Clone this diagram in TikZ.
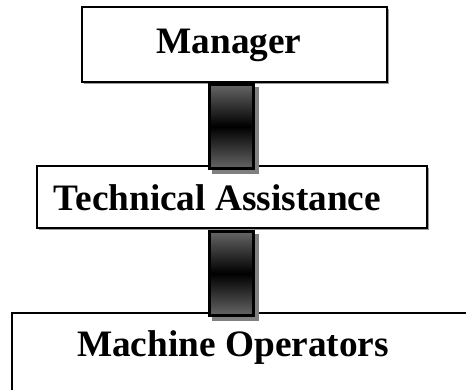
\documentclass[tikz,border=0pt]{standalone}
\usepackage{fontspec}
\setmainfont{Liberation Serif}
\definecolor{barend}{HTML}{666666}
\definecolor{barshadow}{HTML}{808080}
\definecolor{boxshadow}{HTML}{9A9A9A}
\begin{document}
\begin{tikzpicture}[x=1pt,y=-1pt,
  orgbox/.style={draw=black,line width=1.4pt,fill=white,rectangle,inner sep=0pt},
  orgshadow/.style={fill=boxshadow,rectangle,inner sep=0pt},
  orglabel/.style={anchor=base,inner sep=0pt,font=\fontsize{37.3}{41}\selectfont\bfseries},
  linkbar/.style={draw=black,line width=2.6pt,rectangle,inner sep=0pt,
    top color=barend,bottom color=barend,middle color=black,
    minimum width=44.5pt,minimum height=84.5pt},
  linkshadow/.style={fill=barshadow,rectangle,inner sep=0pt,
    minimum width=47pt,minimum height=87pt}
]
\useasboundingbox (0,0) rectangle (466,389);
\clip (0,0) rectangle (466,389);

% framed boxes with a faint drop shadow
\node[orgshadow,minimum width=305pt,minimum height=75pt] (mgrsh) at (236,46) {};
\node[orgbox,minimum width=305pt,minimum height=75pt] (mgr) at (234.5,44.5) {};
\node[orgshadow,minimum width=390pt,minimum height=62pt] (techsh) at (233.5,198.5) {};
\node[orgbox,minimum width=390pt,minimum height=62pt] (tech) at (232,197) {};
\node[orgbox,minimum width=500pt,minimum height=120pt] (ops) at (262,373) {};

% labels
\node[orglabel] (mgrtext) at (229,53) {Manager};
\node[orglabel] (techtext) at (217.5,210) {Technical Assistance};
\node[orglabel] (opstext) at (233,356) {Machine Operators};

% shaded bars linking the levels
\node[linkshadow] (bar1sh) at (235.5,130.5) {};
\node[linkbar] (bar1) at (231.5,126.5) {};
\node[linkshadow] (bar2sh) at (235.5,277.5) {};
\node[linkbar] (bar2) at (231.5,273.5) {};
\end{tikzpicture}
\end{document}
